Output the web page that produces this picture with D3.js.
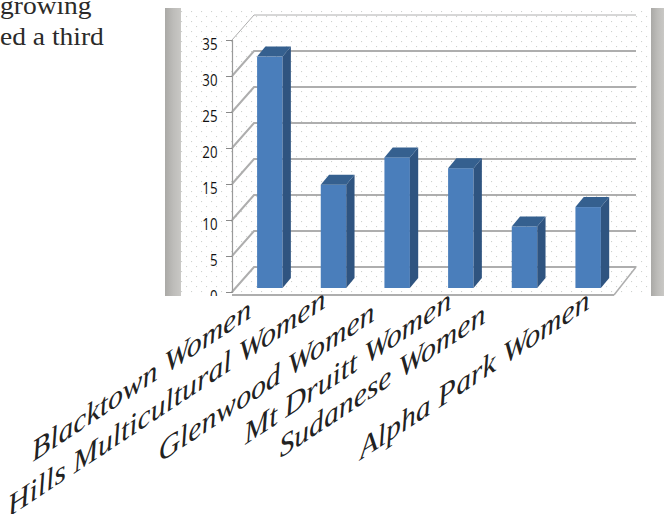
<!DOCTYPE html>
<html><head><meta charset="utf-8">
<script src="https://cdn.jsdelivr.net/npm/d3@7"></script>
<style>html,body{margin:0;padding:0;background:#fff}svg{display:block}</style>
</head><body><svg id="c" width="668" height="514"></svg>
<script>
const categories=["Blacktown Women","Hills Multicultural Women","Glenwood Women","Mt Druitt Women","Sudanese Women","Alpha Park Women"];
const values=[32,14.2,18,16.5,8.4,11.1];
const yTicks=[0,5,10,15,20,25,30,35];
const bodyLines=["growing","ed a third"];

const svg=d3.select("#c");
const y=d3.scaleLinear().domain([0,35]).range([292,40]);
const x=d3.scaleBand().domain(categories).range([232,614]).paddingInner(.6).paddingOuter(.3);
const dx=22,dy=-25,bdx=8.3,bdy=-10,barOff=6,barLift=-5;
const labelShift={"Blacktown Women":[-12,317],"Hills Multicultural Women":[-1.5,307],"Glenwood Women":[-16,320],"Mt Druitt Women":[-3,308],"Sudanese Women":[-32.5,322],"Alpha Park Women":[8,308]};

const defs=svg.append("defs");
const p=defs.append("pattern").attr("id","dots").attr("width",10).attr("height",10).attr("patternUnits","userSpaceOnUse");
[[1,1],[6,6]].forEach(([a,b])=>p.append("rect").attr("x",a).attr("y",b).attr("width",1.1).attr("height",1.1).attr("fill","#cfd2cf"));
const g1=defs.append("linearGradient").attr("id","band");
[["0","#aaa9a6"],[".5","#bdbcb9"],["1","#c9c8c5"]].forEach(([o,c])=>g1.append("stop").attr("offset",o).attr("stop-color",c));
defs.append("clipPath").attr("id","pc").append("rect").attr("x",165).attr("y",8).attr("width",500).attr("height",288);

// body text
svg.selectAll("text.body").data(bodyLines).join("text").attr("class","body")
 .attr("transform",(d,i)=>`translate(0,${14+i*31}) scale(1.1,1)`)
 .attr("font-family","Liberation Serif").attr("font-size",25).attr("fill","#2b2a29").text(d=>d);

const plot=svg.append("g").attr("clip-path","url(#pc)");
plot.append("rect").attr("x",165).attr("y",8).attr("width",499).attr("height",288).attr("fill","#fff");
plot.append("rect").attr("x",165).attr("y",8).attr("width",499).attr("height",288).attr("fill","url(#dots)");
plot.append("rect").attr("x",165).attr("y",8).attr("width",16).attr("height",288).attr("fill","url(#band)");
plot.append("rect").attr("x",651).attr("y",8).attr("width",13).attr("height",288).attr("fill","url(#band)");

// back wall gridlines + diagonal side wall
const grid=plot.append("g").attr("stroke","#aeaeae").attr("fill","none");
grid.selectAll("path.g").data(yTicks).join("path").attr("class","g")
 .attr("stroke-width",d=>d==35?1:2)
 .attr("d",d=>`M${x.range()[0]},${y(d)}L${x.range()[0]+dx},${y(d)+dy}L${x.range()[1]+dx},${y(d)+dy}`);
grid.append("path").attr("stroke-width",1.5)
 .attr("d",`M${x.range()[1]},${y(0)+3}L${x.range()[1]+dx},${y(0)+dy}`);
grid.append("path").attr("stroke-width",2)
 .attr("d",`M${x.range()[0]},${y(0)+3}H${x.range()[1]}`);

// axis
const ax=plot.append("g").attr("transform",`translate(${x.range()[0]},0)`)
 .call(d3.axisLeft(y).tickValues(yTicks).tickSize(6).tickPadding(0));
ax.select(".domain").attr("stroke","#9a9a9a").attr("stroke-width",1.2);
ax.selectAll("line").attr("stroke","#8a8a8a");
ax.selectAll("text").attr("x",null).attr("dy",null)
 .attr("transform","translate(-14.5,9) scale(.78,1)")
 .attr("font-family","Open Sans").attr("font-size",17).attr("fill","#111");

// bars
const bars=plot.selectAll("g.bar").data(categories.map((c,i)=>({c,v:values[i]}))).join("g").attr("class","bar");
const bw=x.bandwidth(), bx=d=>x(d.c)+barOff, by=d=>y(d.v)+barLift, bb=y(0)+barLift+1;
bars.append("rect").attr("x",bx).attr("y",by).attr("width",bw).attr("height",d=>bb-by(d)).attr("fill","#4a7ebb");
bars.append("path").attr("fill","#2f5480").attr("d",d=>`M${bx(d)+bw},${by(d)}l${bdx},${bdy}V${bb+bdy}l${-bdx},${-bdy}Z`);
bars.append("path").attr("fill","#35608f").attr("d",d=>`M${bx(d)},${by(d)}l${bdx},${bdy}h${bw}l${-bdx},${-bdy}Z`);

// category labels
svg.selectAll("text.cat").data(categories).join("text").attr("class","cat")
 .attr("transform",d=>`translate(${x(d)+bw/2+labelShift[d][0]},${labelShift[d][1]}) rotate(-33.5) skewX(-28) scale(1.37,1)`)
 .attr("text-anchor","end")
 .attr("font-family","Liberation Serif").attr("font-style","italic").attr("font-size",26).attr("fill","#222")
 .text(d=>d);
</script></body></html>
